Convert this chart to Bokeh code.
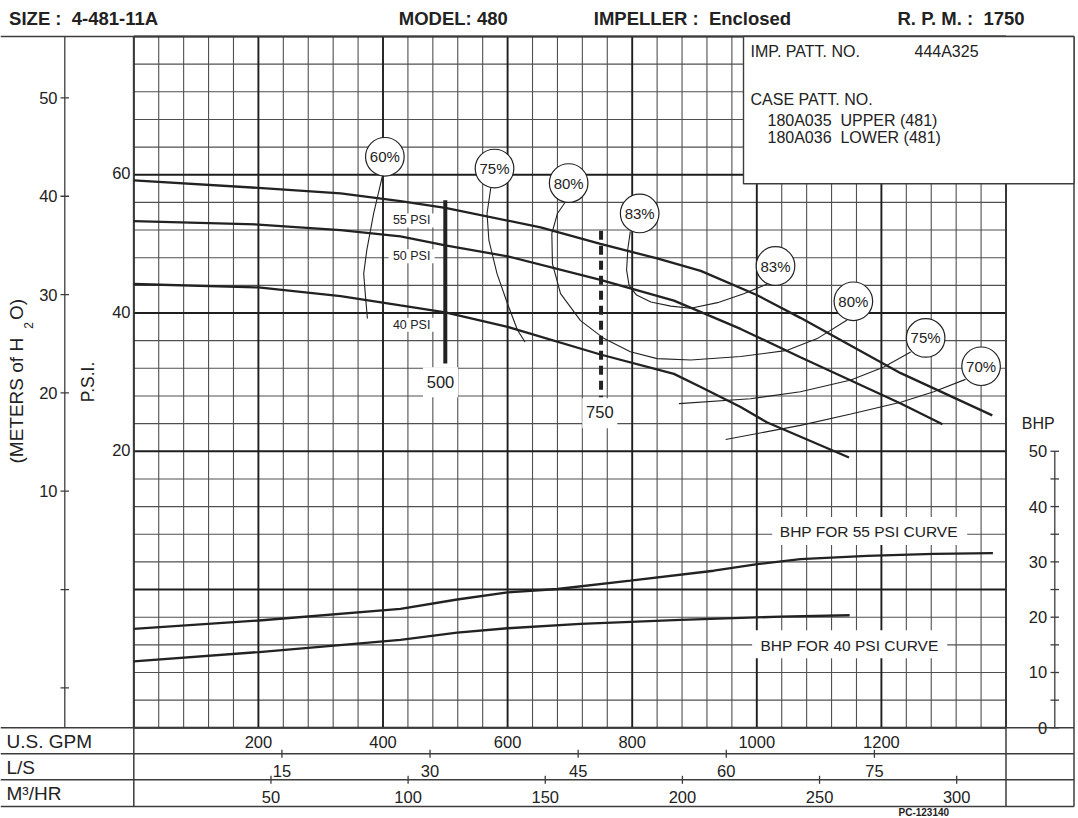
import numpy as np
from bokeh.plotting import figure
from bokeh.models import Range1d
from bokeh.core.properties import value
from bokeh.embed import file_html
from bokeh.resources import INLINE

NB = "\u00a0"

# ---------------- values ----------------
header_texts = ["SIZE : " + NB + "4-481-11A", "MODEL: 480", "IMPELLER : " + NB + "Enclosed",
                "R. P. M. : " + NB + "1750"]
info_texts = ["IMP. PATT. NO.", "444A325", "CASE PATT. NO.",
              "180A035 " + NB + "UPPER (481)", "180A036 " + NB + "LOWER (481)"]
drawing_no = "PC-123140"

gpm_tick_values = [200, 400, 600, 800, 1000, 1200]
ls_tick_values = [15, 30, 45, 60, 75]
m3h_tick_values = [50, 100, 150, 200, 250, 300]
psi_tick_values = [20, 40, 60]
meter_tick_values = [-10, 0, 10, 20, 30, 40, 50]
meter_tick_labels = ["", "", "10", "20", "30", "40", "50"]
bhp_tick_values = [0, 5, 10, 15, 20, 25, 30, 35, 40, 45, 50]
bhp_tick_labels = ["0", "", "10", "", "20", "", "30", "", "40", "", "50"]

# head curves (GPM, PSI)
head55_gpm = [0, 200, 332, 428, 500, 653, 749, 840, 910, 1000, 1070, 1231, 1378]
head55_psi = [59.2, 58.1, 57.3, 56.2, 55.2, 52.4, 50.0, 47.9, 46.1, 42.6, 39.3, 31.3, 25.2]
head50_gpm = [0, 200, 332, 428, 500, 600, 749, 867, 974, 1070, 1231, 1298]
head50_psi = [53.3, 52.8, 52.0, 51.1, 49.8, 48.2, 44.8, 41.8, 37.7, 33.6, 26.9, 23.9]
head40_gpm = [0, 200, 332, 428, 500, 600, 749, 867, 910, 974, 1016, 1148]
head40_psi = [44.2, 43.7, 42.45, 41.1, 40.1, 38.0, 34.0, 31.2, 29.3, 26.4, 24.2, 19.1]
head_label_text = ["55 PSI", "50 PSI", "40 PSI"]
head_label_psi = [53.4, 48.2, 38.3]

# duty-point markers
duty_gpm = [500, 750]
duty_psi_top = [56.3, 51.9]
duty_psi_bottom = [32.7, 27.8]
duty_label_text = ["500", "750"]

# efficiency curves (GPM, PSI)
eff60_gpm = [399, 385, 374, 369, 372, 375]
eff60_psi = [59.8, 54.4, 49.1, 45.7, 42.3, 39.2]
eff75a_gpm = [573, 567, 570, 583, 600, 616, 628]
eff75a_psi = [58.1, 54.4, 50.5, 45.7, 41.3, 37.5, 35.8]
eff80_gpm = [693, 680, 671, 672, 685, 717, 755, 797, 840, 894, 974, 1049, 1097, 1145]
eff80_psi = [56.1, 54.4, 51.5, 47.1, 42.8, 38.9, 36.3, 34.4, 33.4, 33.2, 33.7, 34.6, 36.3, 39.0]
eff83_gpm = [797, 793, 791, 795, 807, 830, 862, 894, 937, 979, 1017]
eff83_psi = [51.8, 49.3, 46.2, 44.0, 42.6, 41.6, 41.0, 40.7, 41.5, 42.8, 44.2]
eff75b_gpm = [1247, 1204, 1151, 1070, 990, 875]
eff75b_psi = [34.35, 32.2, 30.3, 28.6, 27.6, 26.9]
eff70_gpm = [1335, 1284, 1231, 1151, 1070, 950]
eff70_psi = [30.4, 28.6, 27.1, 25.4, 23.75, 21.7]
eff_label_text = ["60%", "75%", "80%", "83%", "83%", "80%", "75%", "70%"]
eff_label_gpm = [403, 579, 698, 812, 1030, 1155, 1271, 1360]
eff_label_psi = [62.6, 60.9, 58.8, 54.4, 46.8, 41.7, 36.4, 32.3]

# brake horsepower curves (GPM, BHP)
bhp55_gpm = [0, 201, 428, 519, 600, 680, 797, 931, 1001, 1070, 1177, 1284, 1379]
bhp55_bhp = [17.9, 19.4, 21.5, 23.2, 24.5, 25.1, 26.6, 28.4, 29.6, 30.5, 31.1, 31.45, 31.6]
bhp40_gpm = [0, 201, 428, 519, 600, 717, 878, 1038, 1149]
bhp40_bhp = [12.0, 13.7, 15.9, 17.2, 18.0, 18.8, 19.5, 20.1, 20.35]
bhp_label_text = ["BHP FOR 55 PSI CURVE", "BHP FOR 40 PSI CURVE"]

# ---------------- layout (reference-page pixels) ----------------
W, H = 1078, 818
PAGE_MARGIN = 0          # the Bokeh page template puts the figure at the page corner
GRID_LEFT_PX, GRID_RIGHT_PX = 133.3, 1005.5
GRID_TOP_PX, GRID_BOTTOM_PX = 36.0, 727.3
GPM_MIN, GPM_MAX = 0, 1400
PSI_MIN, PSI_MAX = -20, 80
GPM_PER_PX = (GPM_MAX - GPM_MIN) / (GRID_RIGHT_PX - GRID_LEFT_PX)
PSI_PER_PX = (PSI_MAX - PSI_MIN) / (GRID_BOTTOM_PX - GRID_TOP_PX)


def gx(px):
    return GPM_MIN + (px - GRID_LEFT_PX) * GPM_PER_PX


def gy(py):
    return PSI_MIN + (GRID_BOTTOM_PX - py) * PSI_PER_PX


X_START, X_END = gx(PAGE_MARGIN), gx(PAGE_MARGIN + W)
Y_START, Y_END = gy(PAGE_MARGIN + H), gy(PAGE_MARGIN)

GPM_PER_LS = 15.8503
GPM_PER_M3H = 4.40287
M_PER_PSI = 0.70307
BHP_ZERO_PSI = -20.0
PSI_PER_BHP = 0.8

ROW_LINES_PX = [GRID_BOTTOM_PX, 753.3, 779.3, 806.0]
RIGHT_BORDER_PX = 1073.5
METER_AXIS_PX = 64.3
BHP_AXIS_PX = 1054.3
INFO_LEFT_PX, INFO_BOTTOM_PX = 743.0, 183.3

INK = "#222222"
GRID_MINOR = "#505050"
GRID_MAJOR = "#1e1e1e"
FRAME = "#3c3c3c"
FONT = value("Liberation Sans")

p = figure(width=W, height=H, x_range=Range1d(X_START, X_END), y_range=Range1d(Y_START, Y_END),
           output_backend="svg", toolbar_location=None, min_border=0,
           x_axis_type=None, y_axis_type=None)
p.outline_line_color = None
p.background_fill_color = "white"
p.border_fill_color = "white"
p.extra_x_ranges = {
    "ls": Range1d(X_START / GPM_PER_LS, X_END / GPM_PER_LS),
    "m3h": Range1d(X_START / GPM_PER_M3H, X_END / GPM_PER_M3H),
}
p.extra_y_ranges = {
    "m": Range1d(Y_START * M_PER_PSI, Y_END * M_PER_PSI),
    "bhp": Range1d((Y_START - BHP_ZERO_PSI) / PSI_PER_BHP, (Y_END - BHP_ZERO_PSI) / PSI_PER_BHP),
}


def txt(xs, ys, texts, size, align="center", baseline="middle", bold=False, angle=0.0, **kw):
    p.text(x=list(xs), y=list(ys), text=list(texts), text_font=FONT,
           text_font_size=value(f"{size}px"), text_align=align, text_baseline=baseline,
           text_font_style="bold" if bold else "normal", text_color=INK, angle=angle, **kw)


def seg(x0, y0, x1, y1, color, width, **kw):
    p.segment(x0=list(x0), y0=list(y0), x1=list(x1), y1=list(y1),
              line_color=color, line_width=width, **kw)


# ---------------- grid ----------------
minor_x = [g for g in range(GPM_MIN, GPM_MAX + 1, 40) if g % 200]
major_x = list(range(GPM_MIN, GPM_MAX + 1, 200))
minor_y = [v for v in range(PSI_MIN, PSI_MAX + 1, 4) if v % 20]
major_y = list(range(PSI_MIN, PSI_MAX + 1, 20))
seg(minor_x, [PSI_MIN] * len(minor_x), minor_x, [PSI_MAX] * len(minor_x), GRID_MINOR, 1.1)
seg([GPM_MIN] * len(minor_y), minor_y, [GPM_MAX] * len(minor_y), minor_y, GRID_MINOR, 1.1)
seg(major_x, [PSI_MIN] * len(major_x), major_x, [PSI_MAX] * len(major_x), GRID_MAJOR, 1.9)
seg([GPM_MIN] * len(major_y), major_y, [GPM_MAX] * len(major_y), major_y, GRID_MAJOR, 1.9)

# frame / scale-table lines
row_y = [gy(v) for v in ROW_LINES_PX] + [PSI_MAX]
seg([X_START] * len(row_y), row_y, [gx(RIGHT_BORDER_PX)] * len(row_y), row_y, FRAME, 1.4)
vert_x = [GPM_MIN, GPM_MAX, gx(RIGHT_BORDER_PX)]
seg(vert_x, [gy(ROW_LINES_PX[-1])] * 3, vert_x, [PSI_MAX] * 3, FRAME, 1.5)

# info box
p.quad(left=[gx(INFO_LEFT_PX)], right=[gx(RIGHT_BORDER_PX)], top=[PSI_MAX], bottom=[gy(INFO_BOTTOM_PX)],
       fill_color="white", line_color=FRAME, line_width=1.4)
txt([gx(750), gx(914), gx(750), gx(767), gx(767)],
    [gy(50.5), gy(50.5), gy(99), gy(119.5), gy(137)], info_texts, 16, align="left")

# header
txt([gx(8.6), gx(398.3), gx(593.3), gx(897)], [gy(18)] * 4, header_texts, 18.5, align="left", bold=True)
txt([gx(898)], [gy(812.3)], [drawing_no], 10, align="left", baseline="middle", bold=True)

# ---------------- left scales ----------------
mx = gx(METER_AXIS_PX)
seg([mx], [PSI_MIN], [mx], [PSI_MAX], FRAME, 1.3)
seg([gx(60)] * len(meter_tick_values), meter_tick_values, [gx(68.5)] * len(meter_tick_values),
    meter_tick_values, FRAME, 1.3, y_range_name="m")
txt([gx(57)] * len(meter_tick_values), meter_tick_values, meter_tick_labels, 16.5,
    align="right", y_range_name="m")
txt([gx(130)] * len(psi_tick_values), [v + 0.2 for v in psi_tick_values],
    [str(v) for v in psi_tick_values], 16.5, align="right")
txt([gx(87)], [gy(381.5)], ["P.S.I."], 17.5, angle=np.pi / 2)
txt([gx(16), gx(16)], [gy(463), gy(319.5)], ["(METERS of H", "O)"], 19, align="left", angle=np.pi / 2)
txt([gx(27.5)], [gy(325)], ["2"], 12, angle=np.pi / 2)

# ---------------- bottom scales ----------------
txt([gx(6)] * 3, [gy(740.5), gy(766.5), gy(792.5)], ["U.S. GPM", "L/S", "M³/HR"], 19, align="left")
txt(gpm_tick_values, [gy(741)] * len(gpm_tick_values), [str(v) for v in gpm_tick_values], 16.5)
seg(ls_tick_values, [gy(749.3)] * len(ls_tick_values), ls_tick_values, [gy(757.3)] * len(ls_tick_values),
    FRAME, 1.3, x_range_name="ls")
txt(ls_tick_values, [gy(770.5)] * len(ls_tick_values), [str(v) for v in ls_tick_values], 16.5,
    x_range_name="ls")
seg(m3h_tick_values, [gy(775.3)] * len(m3h_tick_values), m3h_tick_values, [gy(783.3)] * len(m3h_tick_values),
    FRAME, 1.3, x_range_name="m3h")
txt(m3h_tick_values, [gy(796.5)] * len(m3h_tick_values), [str(v) for v in m3h_tick_values], 16.5,
    x_range_name="m3h")

# ---------------- BHP scale ----------------
bx = gx(BHP_AXIS_PX)
seg([bx], [bhp_tick_values[0]], [bx], [bhp_tick_values[-1]], FRAME, 1.3, y_range_name="bhp")
seg([gx(1050)] * len(bhp_tick_values), bhp_tick_values, [gx(1058.5)] * len(bhp_tick_values),
    bhp_tick_values, FRAME, 1.3, y_range_name="bhp")
txt([gx(1046.7)] * len(bhp_tick_values), bhp_tick_values, bhp_tick_labels, 16.5, align="right",
    y_range_name="bhp")
txt([gx(1037.7)], [gy(423.3)], ["BHP"], 16)

# ---------------- label backgrounds ----------------
HEAD_LABEL_GPM = 446
p.rect(x=[HEAD_LABEL_GPM] * 3, y=head_label_psi, width=46, height=14, width_units="screen",
       height_units="screen", fill_color="white", line_color=None)
p.rect(x=[492.3, 748.0], y=[30.0, 25.5], width=35, height=30, width_units="screen",
       height_units="screen", fill_color="white", line_color=None)
p.rect(x=[1181.2, 1149.1], y=[8.46, -7.9], width=195, height=28, width_units="screen",
       height_units="screen", fill_color="white", line_color=None)

# ---------------- curves ----------------
p.multi_line(xs=[eff60_gpm, eff75a_gpm, eff80_gpm, eff83_gpm, eff75b_gpm, eff70_gpm],
             ys=[eff60_psi, eff75a_psi, eff80_psi, eff83_psi, eff75b_psi, eff70_psi],
             line_color=INK, line_width=1.1)
p.multi_line(xs=[head55_gpm, head50_gpm, head40_gpm], ys=[head55_psi, head50_psi, head40_psi],
             line_color=INK, line_width=2.3)
p.multi_line(xs=[bhp55_gpm, bhp40_gpm], ys=[bhp55_bhp, bhp40_bhp], line_color=INK, line_width=2.3,
             y_range_name="bhp")
p.segment(x0=duty_gpm[:1], y0=duty_psi_top[:1], x1=duty_gpm[:1], y1=duty_psi_bottom[:1],
          line_color=INK, line_width=4)
p.segment(x0=duty_gpm[1:], y0=duty_psi_top[1:], x1=duty_gpm[1:], y1=duty_psi_bottom[1:],
          line_color=INK, line_width=4, line_dash="9 6")

# ---------------- labels ----------------
txt([HEAD_LABEL_GPM] * 3, head_label_psi, head_label_text, 12.5)
txt([492.3, 748.0], [30.0, 25.7], duty_label_text, 16.5)
txt([1179.8, 1148.8], [8.35, -8.05], bhp_label_text, 15.5)
p.scatter(x=eff_label_gpm, y=eff_label_psi, size=38.6, marker="circle", fill_color="white",
          line_color=INK, line_width=1.2)
txt(eff_label_gpm, eff_label_psi, eff_label_text, 15)

open("out.html", "w").write(file_html(p, INLINE))
